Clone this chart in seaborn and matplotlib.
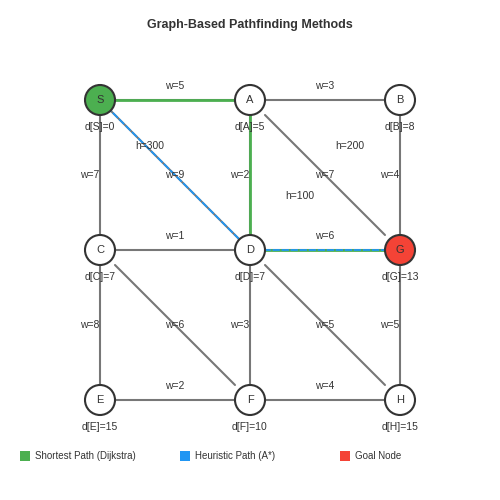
import matplotlib
matplotlib.use("Agg")
import matplotlib.pyplot as plt
import seaborn as sns
from matplotlib.patches import Circle, Rectangle

sns.set_theme(style="white")
plt.rcParams['font.family'] = ['Liberation Sans', 'DejaVu Sans']

nodes = ["S", "A", "B", "C", "D", "G", "E", "F", "H"]
node_col = [0, 1, 2, 0, 1, 2, 0, 1, 2]
node_row = [0, 0, 0, 1, 1, 1, 2, 2, 2]
dist = [0, 5, 8, 7, 7, 13, 15, 10, 15]
edges = [("S","A",5),("A","B",3),("S","C",7),("S","D",9),("A","D",2),("A","G",7),
         ("B","G",4),("C","D",1),("D","G",6),("C","F",6),("D","H",5),("C","E",8),
         ("D","F",3),("G","H",5),("E","F",2),("F","H",4)]
heur_labels = ["h=300", "h=200", "h=100"]
heur_pos = [(150,146),(350,146),(300,196)]
dijkstra_path = ["S","A","D","G"]
astar_path = ["S","D","G"]

fig = plt.figure(figsize=(5,5), dpi=100)
ax = fig.add_axes([0,0,1,1])
ax.set_xlim(0,500); ax.set_ylim(500,0); ax.axis("off")

pos = {n:(100+150*c, 100+150*r) for n,c,r in zip(nodes,node_col,node_row)}
gray = "#777777"
fs = 7.5
for a,b,w in edges:
    (x1,y1),(x2,y2) = pos[a],pos[b]
    if x1!=x2 and y1!=y2:
        if a=="S":
            ax.plot([x1,x2],[y1,y2],color=gray,lw=1.5)
        else:
            ax.plot([x1+15,x2-15],[y1+15,y2-15],color=gray,lw=1.5)
        ax.text((x1+x2)/2,(y1+y2)/2,f"w={w}",ha="center",va="center",fontsize=fs,color="#333")
    else:
        ax.plot([x1,x2],[y1,y2],color=gray,lw=1.5)
        if y1==y2:
            ax.text((x1+x2)/2,y1-14,f"w={w}",ha="center",va="center",fontsize=fs,color="#333")
        else:
            ax.text(x1-10,(y1+y2)/2,f"w={w}",ha="center",va="center",fontsize=fs,color="#333")

px=[pos[n][0] for n in dijkstra_path]; py=[pos[n][1] for n in dijkstra_path]
sns.lineplot(x=px,y=py,ax=ax,color="#4caf50",lw=2,sort=False,estimator=None)
px=[pos[n][0] for n in astar_path]; py=[pos[n][1] for n in astar_path]
ax.plot(px,py,color="#2196f3",lw=1.3,ls=(0,(4,1)))

for (x,y),t in zip(heur_pos,heur_labels):
    ax.text(x,y,t,ha="center",va="center",fontsize=fs,color="#333")

for n,d in zip(nodes,dist):
    x,y = pos[n]
    fc = "#4caf50" if n=="S" else ("#f44336" if n=="G" else "white")
    ax.add_patch(Circle((x,y),15,facecolor=fc,edgecolor="#333",lw=1.5,zorder=5))
    ax.text(x,y,n,ha="center",va="center",fontsize=8,color="#333",zorder=6)
    ax.text(x,y+27,f"d[{n}]={d}",ha="center",va="center",fontsize=fs,color="#333",zorder=6)

ax.text(250,25,"Graph-Based Pathfinding Methods",ha="center",va="center",fontsize=9,fontweight="bold",color="#333")
for x,c,t in [(20,"#4caf50","Shortest Path (Dijkstra)"),(180,"#2196f3","Heuristic Path (A*)"),(340,"#f44336","Goal Node")]:
    ax.add_patch(Rectangle((x,451),10,10,facecolor=c,edgecolor="none"))
    ax.text(x+15,456,t,ha="left",va="center",fontsize=7,color="#333")

fig.savefig("out.png",dpi=100)
